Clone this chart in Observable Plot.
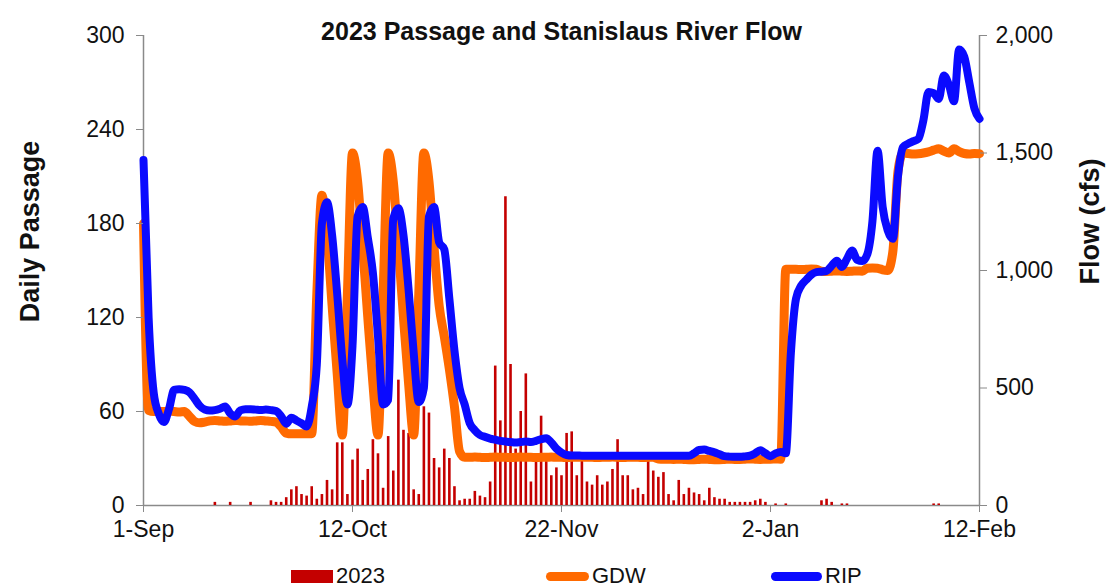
<!DOCTYPE html>
<html>
<head>
<meta charset="utf-8">
<script src="https://cdn.jsdelivr.net/npm/d3@7"></script>
<script src="https://cdn.jsdelivr.net/npm/@observablehq/plot@0.6"></script>
<style>
  body { margin: 0; background: #fff; font-family: "Liberation Sans", Arial, sans-serif; }
  #legend { position: relative; width: 1112px; height: 35px; font-size: 22px; color: #111; }
  #legend .item { position: absolute; top: 6px; height: 34px; display: flex; align-items: center; }
  #legend .sw { display: inline-block; margin-right: 3px; }
</style>
</head>
<body>
<div id="chart"></div>
<div id="legend"></div>
<script>
// Season start; every series below is one value per day from this date.
const seasonStart = new Date(Date.UTC(2023, 8, 1));
const seasonEnd = new Date(Date.UTC(2024, 1, 12));

// Daily fish passage (left axis)
const passage = [
  0, 0, 0, 0, 0, 0, 0, 0, 0, 0,
  0, 0, 0, 0, 2, 0, 0, 2, 0, 0,
  0, 2, 0, 0, 0, 3, 2, 2, 5, 10,
  12, 7, 6, 12, 4, 7, 16, 10, 40, 40,
  7, 29, 36, 16, 23, 42, 33, 11, 44, 22,
  80, 48, 46, 10, 7, 63, 59, 30, 24, 36,
  30, 12, 3, 4, 4, 9, 6, 5, 15, 89,
  54, 197, 90, 36, 60, 84, 15, 31, 57, 28,
  19, 24, 19, 46, 47, 19, 29, 15, 13, 19,
  13, 15, 23, 42, 19, 19, 10, 11, 7, 28,
  22, 18, 21, 7, 3, 16, 7, 11, 8, 7,
  3, 11, 5, 4, 4, 2, 2, 2, 2, 2,
  3, 4, 2, 0, 1, 0, 1, 0, 0, 0,
  0, 0, 0, 3, 4, 2, 0, 1, 1, 0,
  0, 0, 0, 0, 0, 0, 0, 0, 0, 0,
  0, 0, 0, 0, 0, 1, 1, 0, 0, 0,
  0, 0, 0, 0, 0
];

// Stanislaus River flow at Goodwin Dam (cfs, right axis)
const gdw = [
  1200, 405, 400, 400, 400, 402, 400, 398, 400, 380,
  358, 352, 355, 360, 362, 360, 358, 360, 362, 360,
  360, 358, 360, 362, 360, 358, 355, 335, 308, 305,
  305, 305, 305, 305, 900, 1320, 1150, 850, 560, 300,
  900, 1500, 1380, 1100, 800, 520, 300, 900, 1500, 1380,
  1100, 800, 520, 300, 900, 1500, 1380, 1100, 850, 720,
  580, 420, 230, 205, 205, 206, 205, 204, 205, 206,
  205, 205, 204, 205, 206, 205, 205, 204, 205, 205,
  206, 205, 205, 204, 205, 205, 206, 205, 205, 204,
  205, 205, 206, 205, 204, 205, 205, 205, 204, 205,
  205, 198, 197, 197, 196, 197, 196, 195, 195, 196,
  197, 196, 195, 195, 196, 197, 196, 196, 197, 198,
  197, 196, 197, 197, 198, 197, 1005, 1005, 1005, 1004,
  1005, 1006, 1005, 997, 996, 997, 998, 997, 996, 997,
  998, 997, 1010, 1011, 1010, 1003, 1000, 1080, 1420, 1500,
  1498, 1496, 1497, 1500, 1505, 1512, 1518, 1508, 1500, 1518,
  1506, 1498, 1496, 1498, 1497
];

// Stanislaus River flow at Ripon (cfs, right axis)
const rip = [
  1470, 800, 480, 390, 355, 410, 492, 495, 492, 482,
  455, 425, 408, 404, 406, 412, 421, 392, 379, 405,
  410, 410, 408, 406, 408, 406, 402, 380, 348, 373,
  362, 350, 336, 420, 600, 1200, 1290, 1150, 900, 620,
  430, 680, 1230, 1270, 1140, 990, 720, 430, 450, 1220,
  1265, 1150, 920, 650, 440, 500, 1230, 1270, 1120, 1090,
  880, 660, 500, 430, 350, 320, 300, 292, 285, 280,
  275, 272, 270, 268, 270, 272, 270, 275, 282, 286,
  268, 242, 225, 215, 213, 213, 212, 212, 212, 212,
  212, 212, 212, 212, 212, 212, 212, 212, 212, 212,
  212, 212, 212, 212, 212, 212, 212, 212, 222, 236,
  238, 232, 226, 218, 210, 208, 207, 207, 209, 212,
  222, 235, 222, 210, 222, 228, 222, 650, 880, 935,
  960, 982, 993, 995, 998, 1020, 1042, 1015, 1050, 1085,
  1045, 1040, 1070, 1210, 1510, 1270, 1170, 1135, 1400, 1525,
  1540, 1550, 1560, 1640, 1760, 1755, 1730, 1830, 1790, 1720,
  1940, 1910, 1800, 1690, 1645
];

const passageTicks = [0, 60, 120, 180, 240, 300];
const flowTicks = [0, 500, 1000, 1500, 2000];
const dateTicks = [
  new Date(Date.UTC(2023, 8, 1)),
  new Date(Date.UTC(2023, 9, 12)),
  new Date(Date.UTC(2023, 10, 22)),
  new Date(Date.UTC(2024, 0, 2)),
  new Date(Date.UTC(2024, 1, 12))
];

// Flow shares the passage scale: 2,000 cfs sits at the top, like 300 fish.
const flowToPassage = 300 / 2000;

const days = passage.map((count, i) => ({
  date: d3.utcDay.offset(seasonStart, i),
  count,
  gdw: gdw[i],
  rip: rip[i]
}));

const axisGray = "#8a8a8a";
const ink = "#111";

const chart = Plot.plot({
  width: 1112,
  height: 553,
  marginLeft: 143,
  marginRight: 133,
  marginTop: 35,
  marginBottom: 48,
  style: {
    fontFamily: "'Liberation Sans', Arial, sans-serif",
    fontSize: "23px",
    color: ink,
    background: "#fff",
    overflow: "visible"
  },
  x: { type: "utc", domain: [seasonStart, seasonEnd] },
  y: { domain: [0, 300] },
  marks: [
    // frame lines: left, right and base
    Plot.ruleX([seasonStart, seasonEnd], { stroke: axisGray, strokeWidth: 1.5 }),
    Plot.ruleY([0], { stroke: axisGray, strokeWidth: 1.5 }),

    // daily passage bars
    Plot.ruleX(days.filter(d => d.count > 0), {
      x: "date", y1: 0, y2: "count",
      stroke: "#c40000", strokeWidth: 2.6
    }),

    // river flows, rescaled to the passage axis
    Plot.line(days, {
      x: "date", y: d => d.gdw * flowToPassage, curve: "monotone-x",
      stroke: "#ff6a00", strokeWidth: 9,
      strokeLinejoin: "round", strokeLinecap: "round"
    }),
    Plot.line(days, {
      x: "date", y: d => d.rip * flowToPassage, curve: "monotone-x",
      stroke: "#0a0aff", strokeWidth: 8,
      strokeLinejoin: "round", strokeLinecap: "round"
    }),

    // axes
    Plot.axisY(passageTicks, {
      anchor: "left", tickSize: 7, tickPadding: 12, label: null,
      stroke: axisGray, fill: ink
    }),
    Plot.axisY(flowTicks.map(f => f * flowToPassage), {
      anchor: "right", tickSize: 7, tickPadding: 9, label: null,
      tickFormat: v => d3.format(",")(Math.round(v / flowToPassage)),
      stroke: axisGray, fill: ink
    }),
    Plot.axisX(dateTicks, {
      tickSize: 7, tickPadding: 8, label: null,
      tickFormat: d3.utcFormat("%-d-%b"),
      stroke: axisGray, fill: ink
    }),

    // titles
    Plot.text(["2023 Passage and Stanislaus River Flow"], {
      frameAnchor: "top", dy: -13, fontWeight: "bold", fontSize: 25, fill: ink
    }),
    Plot.text(["Daily Passage"], {
      frameAnchor: "left", textAnchor: "middle", dx: -113, dy: -39, rotate: -90,
      fontWeight: "bold", fontSize: 27, fill: ink
    }),
    Plot.text(["Flow (cfs)"], {
      frameAnchor: "right", textAnchor: "middle", dx: 111, dy: -49, rotate: -90,
      fontWeight: "bold", fontSize: 27, fill: ink
    })
  ]
});
document.getElementById("chart").appendChild(chart);

// legend row under the chart
const legendItems = [
  { label: "2023", left: 291, swatch: "width:42px;height:13px;background:#c40000;" },
  { label: "GDW", left: 546, swatch: "width:43px;height:9px;border-radius:5px;background:#ff6a00;" },
  { label: "RIP", left: 771, swatch: "width:51px;height:9px;border-radius:5px;background:#0a0aff;" }
];
const legend = d3.select("#legend");
for (const item of legendItems) {
  const el = legend.append("div").attr("class", "item").style("left", item.left + "px");
  el.append("span").attr("class", "sw").attr("style", item.swatch);
  el.append("span").text(item.label);
}
</script>
</body>
</html>
